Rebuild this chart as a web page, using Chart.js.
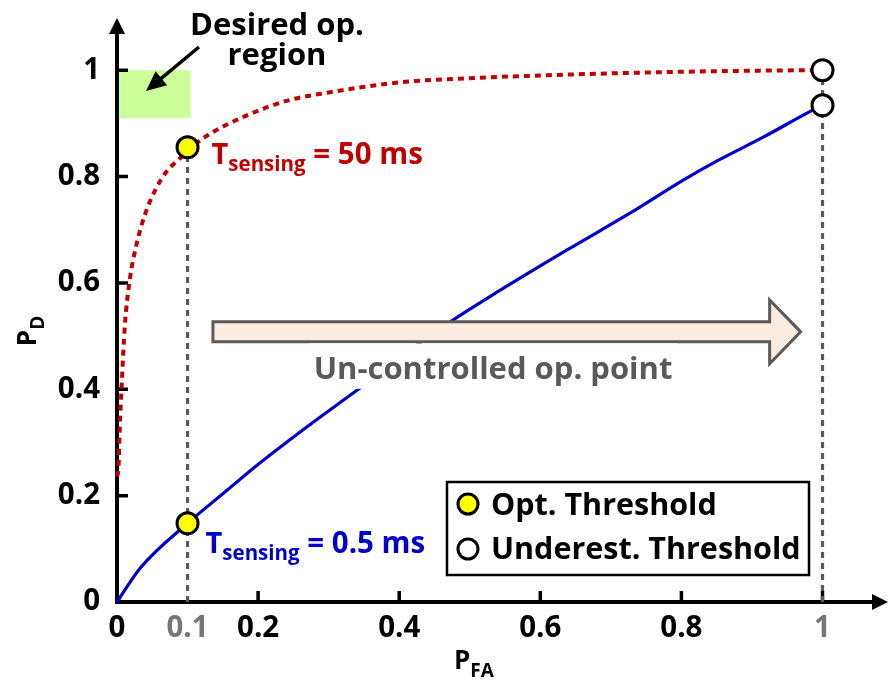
<!DOCTYPE html>
<html>
<head>
<meta charset="utf-8">
<script src="https://cdn.jsdelivr.net/npm/chart.js@4.4.1/dist/chart.umd.min.js"></script>
<style>
  html, body { margin: 0; padding: 0; background: #ffffff; }
  #wrap { width: 890px; height: 684px; }
</style>
</head>
<body>
<div id="wrap"><canvas id="roc" width="890" height="684"></canvas></div>
<script>
const FONT = '"Open Sans", "Noto Sans", sans-serif';

// ROC curve for the long sensing window (T_sensing = 50 ms)
const pfaLong = [0, 0.002, 0.004, 0.007, 0.011, 0.018, 0.028, 0.04, 0.054, 0.07, 0.089, 0.1, 0.122, 0.184, 0.245, 0.3, 0.4, 0.5, 0.6, 0.7, 0.8, 0.9, 1];
const pdLong  = [0.236, 0.25, 0.329, 0.417, 0.517, 0.605, 0.674, 0.73, 0.774, 0.809, 0.834, 0.848, 0.872, 0.915, 0.944, 0.958, 0.977, 0.985, 0.99, 0.994, 0.997, 0.999, 1.0];

// ROC curve for the short sensing window (T_sensing = 0.5 ms)
const pfaShort = [0, 0.033, 0.1, 0.156, 0.189, 0.269, 0.34, 0.425, 0.476, 0.538, 0.638, 0.727, 0.802, 0.85, 0.916, 0.982, 1];
const pdShort  = [0, 0.064, 0.148, 0.21, 0.247, 0.329, 0.398, 0.483, 0.53, 0.582, 0.662, 0.731, 0.793, 0.829, 0.874, 0.922, 0.934];

// operating points
const optPfa   = [0.1, 0.1];
const optPd    = [0.855, 0.148];
const underPfa = [1, 1];
const underPd  = [1.0, 0.934];

// desired operating region (P_FA range, P_D range)
const desiredPfa = [0, 0.1];
const desiredPd  = [0.91, 1.0];

// axes
const xTickLabels = [0, 0.1, 0.2, 0.4, 0.6, 0.8, 1];
const xGrayLabels = [0.1, 1];
const xTickMarks  = [0.2, 0.4, 0.6, 0.8, 1];
const yTickLabels = [0, 0.2, 0.4, 0.6, 0.8, 1];
const yTickMarks  = [0.2, 0.4, 0.6, 0.8, 1];

const legendLabels = ['Opt. Threshold', 'Underest. Threshold'];

const toPoints = (xs, ys) => xs.map((v, i) => ({ x: v, y: ys[i] }));

function drawRich(ctx, x, y, parts, color) {
  ctx.fillStyle = color;
  ctx.textAlign = 'left';
  ctx.textBaseline = 'alphabetic';
  let cx = x;
  for (const p of parts) {
    ctx.font = `bold ${p.size}px ${FONT}`;
    ctx.fillText(p.t, cx, y + (p.dy || 0));
    cx += ctx.measureText(p.t).width;
  }
  return cx - x;
}
function richWidth(ctx, parts) {
  let w = 0;
  for (const p of parts) { ctx.font = `bold ${p.size}px ${FONT}`; w += ctx.measureText(p.t).width; }
  return w;
}
function arrowHead(ctx, tipX, tipY, ang, len, half) {
  const bx = tipX - Math.cos(ang) * len, by = tipY - Math.sin(ang) * len;
  const nx = -Math.sin(ang) * half, ny = Math.cos(ang) * half;
  ctx.beginPath();
  ctx.moveTo(tipX, tipY);
  ctx.lineTo(bx + nx, by + ny);
  ctx.lineTo(bx - nx, by - ny);
  ctx.closePath();
  ctx.fill();
}
function marker(ctx, cx, cy, r, fill) {
  ctx.beginPath();
  ctx.arc(cx, cy, r, 0, Math.PI * 2);
  ctx.fillStyle = fill; ctx.fill();
  ctx.lineWidth = 3; ctx.strokeStyle = '#000'; ctx.stroke();
}

const overlay = {
  id: 'overlay',
  beforeDatasetsDraw(chart) {
    const { ctx, scales: { x, y } } = chart;
    const X = v => x.getPixelForValue(v), Y = v => y.getPixelForValue(v);
    ctx.save();
    // desired operating region
    ctx.fillStyle = '#ccff99';
    ctx.fillRect(X(desiredPfa[0]) + 1, Y(desiredPd[1]), X(desiredPfa[1]) - X(desiredPfa[0]) + 2, Y(desiredPd[0]) - Y(desiredPd[1]));

    // axis lines with arrowheads
    const x0 = X(0), y0 = Y(0), xEnd = X(x.max) + 2, yEnd = Y(y.max) + 1;
    ctx.strokeStyle = '#000'; ctx.fillStyle = '#000'; ctx.lineWidth = 4;
    ctx.beginPath();
    ctx.moveTo(x0, y0 + 2); ctx.lineTo(x0, yEnd + 12);
    ctx.moveTo(x0 - 2, y0); ctx.lineTo(xEnd - 12, y0);
    ctx.stroke();
    arrowHead(ctx, x0, yEnd, -Math.PI / 2, 16, 8);
    arrowHead(ctx, xEnd, y0, 0, 16, 8);

    // inward tick marks
    ctx.lineWidth = 3.5;
    ctx.beginPath();
    for (const v of yTickMarks) { ctx.moveTo(x0, Y(v)); ctx.lineTo(x0 + 11, Y(v)); }
    for (const v of xTickMarks) { ctx.moveTo(X(v), y0); ctx.lineTo(X(v), y0 - 11); }
    ctx.stroke();
    ctx.restore();
  },
  afterDatasetsDraw(chart) {
    const { ctx, scales: { x, y } } = chart;
    const X = v => x.getPixelForValue(v), Y = v => y.getPixelForValue(v);
    ctx.save();

    // un-controlled operating point arrow
    const ax0 = X(0.136), ax1 = X(0.969), ay = Y(0.508);
    const bh = 10, hh = 32, hl = 31;
    ctx.beginPath();
    ctx.moveTo(ax0, ay - bh); ctx.lineTo(ax1 - hl, ay - bh); ctx.lineTo(ax1 - hl, ay - hh);
    ctx.lineTo(ax1, ay); ctx.lineTo(ax1 - hl, ay + hh); ctx.lineTo(ax1 - hl, ay + bh);
    ctx.lineTo(ax0, ay + bh); ctx.closePath();
    ctx.fillStyle = '#fcebdf'; ctx.fill();
    ctx.lineWidth = 3; ctx.strokeStyle = '#5a5a5a'; ctx.lineJoin = 'miter'; ctx.stroke();

    const cap = 'Un-controlled op. point';
    ctx.font = `bold 31px ${FONT}`;
    const cw = ctx.measureText(cap).width;
    const ccx = X(0.533), cby = ay + 47;
    ctx.fillStyle = '#ffffff';
    ctx.fillRect(ccx - cw / 2 - 5, ay + bh + 1.6, cw + 10, cby + 10 - (ay + bh + 1.6));
    ctx.fillStyle = '#595959'; ctx.textAlign = 'center'; ctx.textBaseline = 'alphabetic';
    ctx.fillText(cap, ccx, cby);

    // desired region callout
    ctx.fillStyle = '#000'; ctx.font = `bold 31px ${FONT}`;
    ctx.fillText('Desired op.', 277, 35);
    ctx.fillText('region', 277, 65);
    const sx = 199, sy = 47, tx = 146, ty = 91;
    const ang = Math.atan2(ty - sy, tx - sx);
    ctx.strokeStyle = '#000'; ctx.lineWidth = 3.5;
    ctx.beginPath(); ctx.moveTo(sx, sy); ctx.lineTo(tx - Math.cos(ang) * 14, ty - Math.sin(ang) * 14); ctx.stroke();
    arrowHead(ctx, tx, ty, ang, 20, 9);

    // curve labels next to the optimal operating points
    const sub = rest => [{ t: 'T', size: 29 }, { t: 'sensing', size: 20.5, dy: 7 }, { t: rest, size: 29.5 }];
    drawRich(ctx, X(optPfa[0]) + 24, Y(optPd[0]) + 17, sub(' = 50 ms'), '#c00000');
    drawRich(ctx, X(optPfa[1]) + 18, Y(optPd[1]) + 30, sub(' = 0.5 ms'), '#0000cc');

    // legend
    const lx = 447, ly = 482, lw = 362, lh = 93;
    ctx.fillStyle = '#fff'; ctx.fillRect(lx, ly, lw, lh);
    ctx.lineWidth = 2.5; ctx.strokeStyle = '#000'; ctx.strokeRect(lx, ly, lw, lh);
    marker(ctx, lx + 21, ly + 22, 10, '#ffff00');
    marker(ctx, lx + 21, ly + 67, 10, '#ffffff');
    ctx.fillStyle = '#000'; ctx.textAlign = 'left'; ctx.font = `bold 30.5px ${FONT}`;
    ctx.fillText(legendLabels[0], lx + 44, ly + 33);
    ctx.fillText(legendLabels[1], lx + 44, ly + 77);

    // axis titles
    const xt = [{ t: 'P', size: 26 }, { t: 'FA', size: 19, dy: 8 }];
    drawRich(ctx, 454, 669, xt, '#000');
    const yt = [{ t: 'P', size: 26 }, { t: 'D', size: 19, dy: 8 }];
    const yw = richWidth(ctx, yt);
    ctx.translate(36, 331);
    ctx.rotate(-Math.PI / 2);
    drawRich(ctx, -yw / 2, 0, yt, '#000');
    ctx.restore();
  }
};

const tickFont = { family: FONT, size: 29.5, weight: 'bold' };

new Chart(document.getElementById('roc'), {
  type: 'scatter',
  data: {
    datasets: [
      {
        label: 'T_sensing = 50 ms',
        data: toPoints(pfaLong, pdLong),
        showLine: true, borderColor: '#c00000', borderWidth: 4, borderDash: [6, 5],
        pointRadius: 0, cubicInterpolationMode: 'monotone', clip: false, order: 4
      },
      {
        label: 'T_sensing = 0.5 ms',
        data: toPoints(pfaShort, pdShort),
        showLine: true, borderColor: '#0000cc', borderWidth: 3.2,
        pointRadius: 0, cubicInterpolationMode: 'monotone', clip: false, order: 4
      },
      {
        label: 'P_FA = 0.1',
        data: [{ x: optPfa[0], y: 0 }, { x: optPfa[0], y: optPd[0] }],
        showLine: true, borderColor: '#5a5a5a', borderWidth: 3.2, borderDash: [6, 5],
        pointRadius: 0, order: 3
      },
      {
        label: 'P_FA = 1',
        data: [{ x: underPfa[0], y: 0 }, { x: underPfa[0], y: underPd[0] }],
        showLine: true, borderColor: '#5a5a5a', borderWidth: 3.2, borderDash: [6, 5],
        pointRadius: 0, order: 3
      },
      {
        label: legendLabels[0],
        data: toPoints(optPfa, optPd),
        showLine: false, pointRadius: 10.5, pointBackgroundColor: '#ffff00',
        pointBorderColor: '#000', pointBorderWidth: 3, clip: false, order: 1
      },
      {
        label: legendLabels[1],
        data: toPoints(underPfa, underPd),
        showLine: false, pointRadius: 10.5, pointBackgroundColor: '#ffffff',
        pointBorderColor: '#000', pointBorderWidth: 3, clip: false, order: 1
      }
    ]
  },
  options: {
    responsive: false,
    animation: false,
    events: [],
    layout: { autoPadding: false, padding: { top: 17, right: 4, left: 0, bottom: 0 } },
    plugins: { legend: { display: false }, tooltip: { enabled: false } },
    scales: {
      x: {
        type: 'linear', min: 0, max: 1.09,
        afterBuildTicks(s) { s.ticks = xTickLabels.map(v => ({ value: v })); },
        afterFit(s) { s.height = 82; s.paddingLeft = 0; s.paddingRight = 0; },
        grid: { display: false, drawTicks: false },
        border: { display: false },
        ticks: {
          autoSkip: false, maxRotation: 0, padding: 9, font: tickFont,
          color: c => xGrayLabels.includes(c.tick.value) ? '#767676' : '#000000',
          callback: v => String(v)
        }
      },
      y: {
        type: 'linear', min: 0, max: 1.1,
        afterBuildTicks(s) { s.ticks = yTickLabels.map(v => ({ value: v })); },
        afterFit(s) { s.width = 117; s.paddingTop = 0; s.paddingBottom = 0; },
        grid: { display: false, drawTicks: false },
        border: { display: false },
        ticks: { autoSkip: false, padding: 17, font: tickFont, color: '#000000', callback: v => String(v) }
      }
    }
  },
  plugins: [overlay]
});
</script>
</body>
</html>
